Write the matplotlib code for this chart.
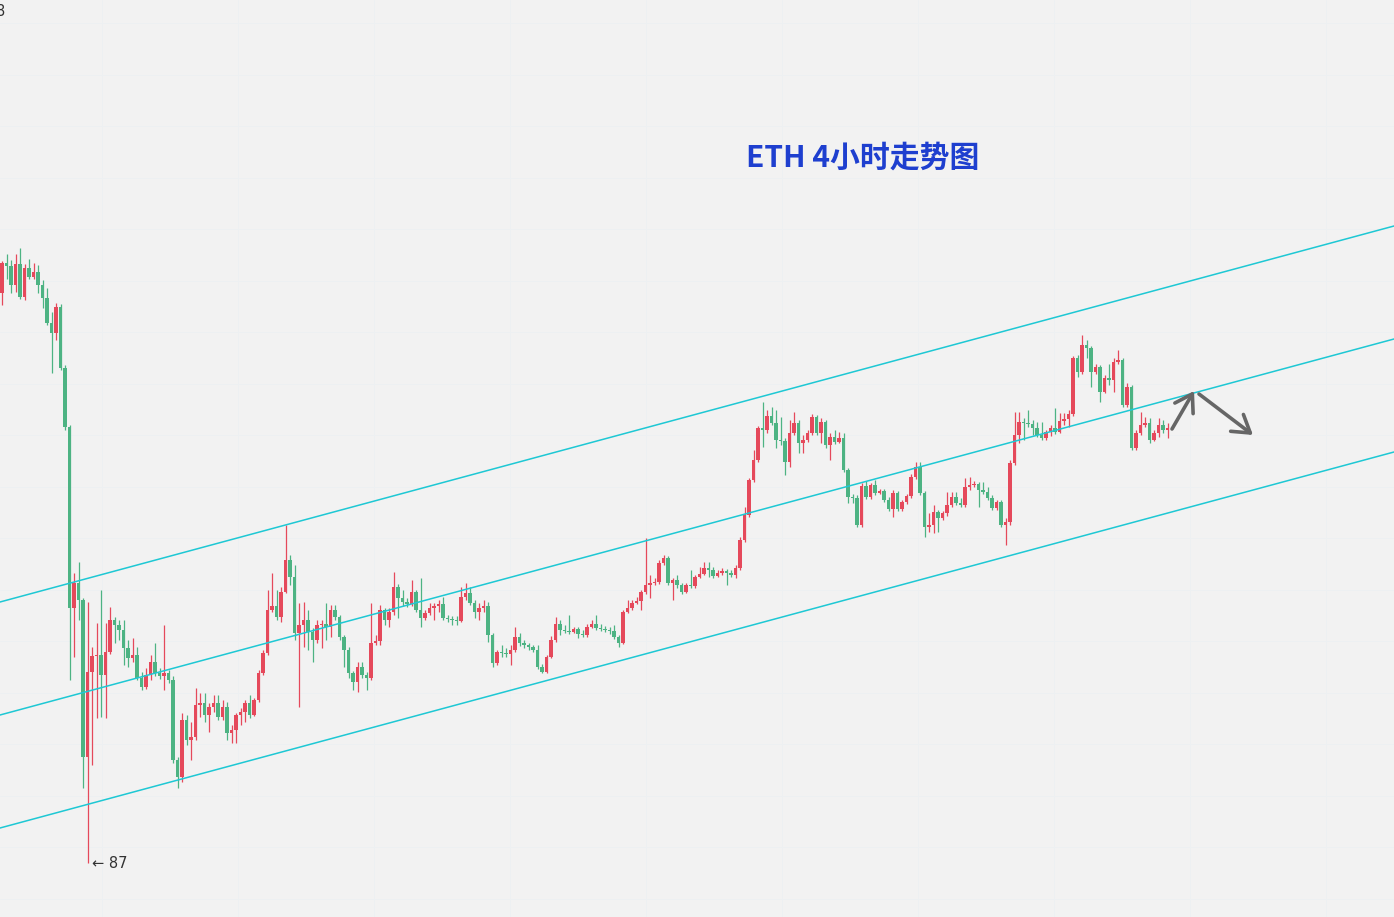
import numpy as np
import matplotlib
matplotlib.use("Agg")
import matplotlib.pyplot as plt

# ETH 4h candles (open of each bar = close of the previous one)
first_open = 4057
closes = [4087, 4084, 4065, 4086, 4053, 4082, 4073, 4078, 4065, 4052,
          4027, 4017, 4043, 3982, 3923, 3742, 3767, 3750, 3593, 3678,
          3694, 3695, 3675, 3698, 3730, 3725, 3720, 3702, 3692, 3695,
          3672, 3663, 3675, 3688, 3677, 3674, 3677, 3670, 3590, 3573,
          3630, 3610, 3613, 3645, 3647, 3635, 3643, 3647, 3633, 3643,
          3617, 3620, 3635, 3638, 3647, 3635, 3650, 3677, 3697, 3740,
          3744, 3733, 3758, 3790, 3773, 3717, 3725, 3730, 3718, 3710,
          3725, 3726, 3723, 3740, 3733, 3713, 3700, 3677, 3668, 3683,
          3675, 3672, 3707, 3709, 3740, 3730, 3738, 3763, 3752, 3748,
          3746, 3758, 3740, 3732, 3737, 3742, 3744, 3746, 3732, 3731,
          3730, 3729, 3753, 3757, 3747, 3738, 3742, 3744, 3715, 3687,
          3698, 3697, 3696, 3700, 3713, 3707, 3705, 3703, 3700, 3683,
          3678, 3693, 3710, 3726, 3720, 3719, 3718, 3721, 3716, 3715,
          3723, 3726, 3722, 3721, 3720, 3719, 3713, 3707, 3738, 3742,
          3747, 3749, 3758, 3765, 3767, 3768, 3787, 3792, 3767, 3770,
          3765, 3758, 3765, 3764, 3773, 3776, 3782, 3780, 3774, 3777,
          3779, 3777, 3775, 3782, 3810, 3835, 3870, 3890, 3922, 3920,
          3934, 3927, 3910, 3909, 3888, 3917, 3927, 3907, 3910, 3917,
          3933, 3917, 3928, 3905, 3913, 3908, 3912, 3880, 3853, 3852,
          3825, 3864, 3853, 3865, 3857, 3859, 3850, 3841, 3857, 3841,
          3848, 3854, 3873, 3883, 3857, 3823, 3825, 3838, 3832, 3837,
          3845, 3853, 3847, 3845, 3863, 3865, 3866, 3860, 3858, 3852,
          3842, 3848, 3825, 3828, 3887, 3915, 3928, 3927, 3926, 3922,
          3915, 3912, 3918, 3922, 3918, 3929, 3931, 3936, 3992, 3978,
          4005, 4002, 3978, 3983, 3958, 3972, 3970, 3988, 3990, 3945,
          3963, 3902, 3917, 3925, 3927, 3910, 3917, 3925, 3920, 3922]
highs = [4089, 4096, 4090, 4096, 4102, 4086, 4091, 4087, 4085, 4070,
         4062, 4038, 4047, 4046, 3985, 3925, 3777, 3788, 3752, 3748,
         3703, 3727, 3760, 3727, 3743, 3733, 3730, 3730, 3710, 3712,
         3703, 3678, 3682, 3695, 3707, 3682, 3725, 3680, 3674, 3593,
         3637, 3635, 3628, 3662, 3657, 3657, 3647, 3655, 3655, 3650,
         3648, 3625, 3637, 3642, 3650, 3655, 3652, 3680, 3700, 3760,
         3777, 3760, 3763, 3825, 3795, 3785, 3747, 3748, 3740, 3722,
         3730, 3730, 3747, 3745, 3745, 3735, 3715, 3703, 3679, 3688,
         3688, 3678, 3747, 3715, 3745, 3742, 3742, 3778, 3766, 3760,
         3752, 3770, 3760, 3772, 3740, 3747, 3747, 3750, 3753, 3735,
         3734, 3734, 3763, 3767, 3763, 3750, 3747, 3750, 3748, 3717,
         3700, 3705, 3702, 3705, 3723, 3717, 3710, 3707, 3705, 3705,
         3686, 3695, 3714, 3733, 3730, 3725, 3735, 3723, 3723, 3720,
         3726, 3730, 3735, 3726, 3724, 3723, 3725, 3715, 3740, 3750,
         3750, 3753, 3760, 3812, 3775, 3772, 3790, 3795, 3794, 3772,
         3775, 3767, 3767, 3780, 3775, 3783, 3788, 3788, 3783, 3780,
         3782, 3781, 3780, 3785, 3813, 3843, 3872, 3900, 3924, 3948,
         3940, 3943, 3940, 3933, 3912, 3930, 3938, 3930, 3915, 3920,
         3936, 3935, 3932, 3930, 3917, 3920, 3918, 3917, 3882, 3856,
         3855, 3867, 3869, 3867, 3870, 3861, 3861, 3853, 3860, 3859,
         3850, 3856, 3876, 3888, 3888, 3859, 3837, 3845, 3840, 3839,
         3858, 3858, 3858, 3852, 3872, 3873, 3869, 3868, 3868, 3863,
         3855, 3850, 3850, 3832, 3890, 3938, 3938, 3932, 3940, 3930,
         3928, 3928, 3920, 3925, 3942, 3937, 3937, 3940, 3994, 3995,
         4015, 4010, 4004, 3986, 3985, 3975, 3986, 3992, 4000, 3992,
         3967, 3965, 3920, 3938, 3933, 3932, 3920, 3932, 3930, 3927]
lows = [4045, 4071, 4057, 4058, 4051, 4050, 4071, 4071, 4057, 4042,
        4025, 3977, 4010, 3980, 3920, 3670, 3693, 3730, 3562, 3487,
        3585, 3632, 3633, 3632, 3696, 3707, 3710, 3685, 3683, 3688,
        3670, 3660, 3661, 3670, 3674, 3671, 3660, 3667, 3587, 3562,
        3568, 3605, 3590, 3610, 3633, 3628, 3618, 3638, 3630, 3630,
        3610, 3607, 3607, 3625, 3628, 3632, 3634, 3648, 3675, 3695,
        3738, 3730, 3728, 3757, 3765, 3710, 3643, 3703, 3700, 3688,
        3707, 3702, 3710, 3713, 3730, 3710, 3683, 3672, 3660, 3658,
        3672, 3660, 3670, 3705, 3705, 3725, 3723, 3735, 3732, 3744,
        3743, 3744, 3738, 3723, 3730, 3735, 3730, 3738, 3730, 3728,
        3725, 3725, 3728, 3750, 3745, 3732, 3730, 3738, 3708, 3683,
        3685, 3693, 3693, 3685, 3698, 3704, 3702, 3700, 3698, 3681,
        3677, 3677, 3692, 3708, 3715, 3717, 3716, 3717, 3712, 3713,
        3713, 3722, 3720, 3719, 3718, 3716, 3711, 3703, 3706, 3737,
        3740, 3746, 3740, 3756, 3752, 3765, 3766, 3785, 3765, 3750,
        3762, 3756, 3757, 3762, 3762, 3772, 3775, 3773, 3772, 3773,
        3775, 3765, 3773, 3772, 3780, 3808, 3833, 3868, 3888, 3903,
        3917, 3925, 3902, 3905, 3875, 3883, 3915, 3897, 3897, 3908,
        3915, 3915, 3907, 3902, 3890, 3906, 3907, 3878, 3847, 3847,
        3823, 3823, 3851, 3851, 3855, 3856, 3848, 3839, 3833, 3839,
        3839, 3846, 3852, 3871, 3855, 3813, 3818, 3817, 3818, 3830,
        3834, 3843, 3845, 3843, 3843, 3860, 3863, 3843, 3856, 3850,
        3840, 3840, 3823, 3805, 3825, 3885, 3907, 3910, 3923, 3915,
        3913, 3910, 3910, 3914, 3916, 3917, 3925, 3923, 3934, 3973,
        3976, 3992, 3963, 3976, 3948, 3957, 3965, 3958, 3986, 3943,
        3943, 3900, 3900, 3915, 3923, 3907, 3909, 3913, 3917, 3912]

# parallel channel: price at the left and right edge of the chart
channel_left = [3748, 3635, 3522]
channel_right = [4124, 4011, 3898]

# projected path (bar index, price)
arrow_up = [(260.0, 3921), (264.9, 3959)]
arrow_down = [(266.0, 3956), (278.0, 3915)]

title = "ETH 4小时走势图"
low_text = "← 87"

up_color = "#e5495b"
down_color = "#4db383"
bg = "#f2f2f2"

closes = np.array(closes, dtype=float)
opens = np.concatenate([[first_open], closes[:-1]])
highs = np.maximum(np.array(highs, dtype=float), np.maximum(opens, closes))
lows = np.minimum(np.array(lows, dtype=float), np.minimum(opens, closes))
x = np.arange(len(closes))
colors = np.where(closes <= opens, down_color, up_color)

W, H = 1394, 917
fig = plt.figure(figsize=(W / 100, H / 100), dpi=100, facecolor=bg)
ax = fig.add_axes([0, 0, 1, 1])
ax.set_facecolor(bg)

step = 4.5  # pixels per bar
xmin, xmax = -2 / step, (W - 2) / step
ax.set_xlim(xmin, xmax)
ax.set_ylim(4350 - H, 4350)
ax.axis("off")

# very faint grid
for px in np.arange(102, W, 136):
    ax.axvline((px - 2) / step, color="#edf0f3", lw=0.6, zorder=0)
for py in np.arange(23, H, 51.5):
    ax.axhline(4350 - py, color="#edf0f3", lw=0.6, zorder=0)

# candles
ax.vlines(x, lows, highs, colors=colors, lw=0.9, zorder=2)
body = np.maximum(np.abs(closes - opens), 1.2)
ax.bar(x, body, bottom=np.minimum(opens, closes), width=0.85,
       color=colors, linewidth=0, zorder=3)

# channel lines
for left, right in zip(channel_left, channel_right):
    ax.plot([xmin, xmax], [left, right], color="#1ec8d4", lw=1.1, zorder=4)

# arrows
for start, end in (arrow_up, arrow_down):
    ax.annotate("", xy=end, xytext=start,
                arrowprops=dict(arrowstyle="->,head_length=0.6,head_width=0.38",
                                color="#666666", lw=2.6, mutation_scale=20,
                                shrinkA=0, shrinkB=0),
                zorder=5)

# low marker
low_i = int(np.argmin(lows))
ax.annotate(low_text, xy=(low_i, lows[low_i]), xytext=(4, 0),
            textcoords="offset pixels", va="center", ha="left",
            fontsize=10.5, color="#333333", family=["DejaVu Sans"])

# price label cut by the left edge, as in the screenshot
fig.text(-0.003, 1 - 12 / H, "8", fontsize=10.5, color="#333333",
         va="center", ha="left")

fig.text(863 / W, 1 - 158 / H, title, fontsize=21.5, fontweight="bold",
         color="#1e3fcf", ha="center", va="center",
         family=["Noto Sans CJK SC", "DejaVu Sans"])

fig.savefig("out.png", dpi=100, facecolor=bg)
